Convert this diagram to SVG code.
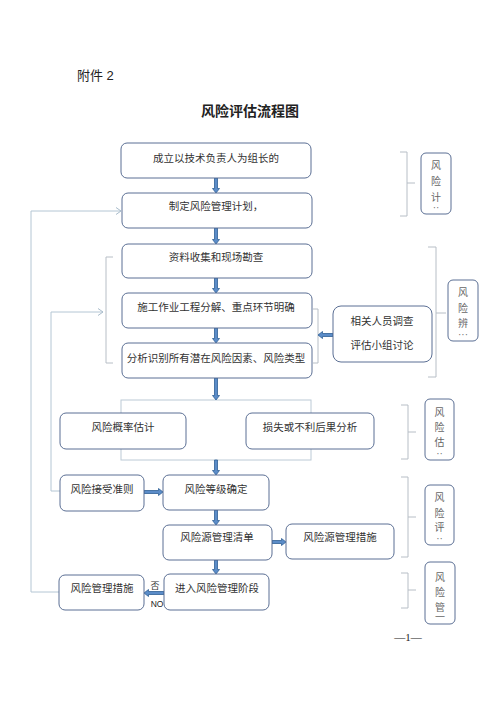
<svg xmlns="http://www.w3.org/2000/svg" width="500" height="707" viewBox="0 0 500 707">
<style>
.bg{fill:#ffffff}
.box{fill:#ffffff;stroke:#5b6f94;stroke-width:1}
.side{fill:#ffffff;stroke:#5b6f94;stroke-width:1}
.t{font-family:"Liberation Serif","Noto Sans CJK SC",serif;font-size:10.5px;fill:#333333;text-anchor:middle}
.st{font-family:"Liberation Serif","Noto Sans CJK SC",serif;font-size:10px;fill:#666666;text-anchor:middle}
.brk{fill:none;stroke:#b7bec6;stroke-width:1}
.fb{fill:none;stroke:#b4c6d4;stroke-width:1}
.ah{fill:none;stroke:#a9bccb;stroke-width:1}
.barrow{fill:#5b8cc8;stroke:#2f5f96;stroke-width:0.8}
.frame{fill:none;stroke:#bccad6;stroke-width:1}
</style>
<rect class="bg" x="0" y="0" width="500" height="707"/>

<text id="attach" x="77" y="80" style="font-family:'Liberation Sans','Noto Sans CJK SC',sans-serif;font-size:13px;fill:#222">附件 2</text>
<text id="title" x="250" y="116" style="font-family:'Liberation Serif','Noto Sans CJK SC',serif;font-size:14px;font-weight:bold;fill:#222;text-anchor:middle">风险评估流程图</text>

<g id="connectors">
  <!-- feedback lines -->
  <path class="fb" d="M59 592 H31 V211 H121"/>
  <path class="ah" d="M116 207.5 L121 211 L116 214.5"/>
  <path class="fb" d="M60 491 H51 V312 H103"/>
  <path class="ah" d="M98 308.5 L103 312 L98 315.5"/>
  <!-- left bracket around identification steps -->
  <path class="brk" d="M113 257 H106 V363 H113"/>
  <!-- small bracket right of steps 4-5 -->
  <path class="brk" d="M313 309 H318 V363 H313"/>
  <!-- estimation frame -->
  <rect class="frame" x="121" y="400" width="190" height="60"/>
  <!-- right braces -->
  <path class="brk" d="M400 152 H407 V216 H400 M407 183 H415"/>
  <path class="brk" d="M428 247 H436 V377 H428 M436 313 H446"/>
  <path class="brk" d="M401 405 H408 V459 H401 M408 432 H416"/>
  <path class="brk" d="M401 477 H408 V557 H401 M408 517 H416"/>
  <path class="brk" d="M401 573 H408 V608 H401 M408 590 H416"/>
  <!-- block arrows -->
  <path class="barrow" d="M214.5 178 L214.5 188.5 L212.5 188.5 L216 193 L219.5 188.5 L217.5 188.5 L217.5 178 Z"/>
  <path class="barrow" d="M214.5 228 L214.5 239.5 L212.5 239.5 L216 244 L219.5 239.5 L217.5 239.5 L217.5 228 Z"/>
  <path class="barrow" d="M214.5 278 L214.5 288.5 L212.5 288.5 L216 293 L219.5 288.5 L217.5 288.5 L217.5 278 Z"/>
  <path class="barrow" d="M214.5 328 L214.5 338.5 L212.5 338.5 L216 343 L219.5 338.5 L217.5 338.5 L217.5 328 Z"/>
  <path class="barrow" d="M214.5 378 L214.5 395.5 L212.5 395.5 L216 400 L219.5 395.5 L217.5 395.5 L217.5 378 Z"/>
  <path class="barrow" d="M214.5 460 L214.5 470.5 L212.5 470.5 L216 475 L219.5 470.5 L217.5 470.5 L217.5 460 Z"/>
  <path class="barrow" d="M214.5 510 L214.5 520.5 L212.5 520.5 L216 525 L219.5 520.5 L217.5 520.5 L217.5 510 Z"/>
  <path class="barrow" d="M214.5 560 L214.5 569.5 L212.5 569.5 L216 574 L219.5 569.5 L217.5 569.5 L217.5 560 Z"/>
  <path class="barrow" d="M144 490.5 L158.5 490.5 L158.5 488.5 L163 492 L158.5 495.5 L158.5 493.5 L144 493.5 Z"/>
  <path class="barrow" d="M272 540.5 L281.5 540.5 L281.5 538.5 L286 542 L281.5 545.5 L281.5 543.5 L272 543.5 Z"/>
  <path class="barrow" d="M333 333.5 L322.5 333.5 L322.5 331.5 L318 335 L322.5 338.5 L322.5 336.5 L333 336.5 Z"/>
  <path class="barrow" d="M164 591.5 L148.5 591.5 L148.5 589.5 L144 593 L148.5 596.5 L148.5 594.5 L164 594.5 Z"/>
  <text x="155" y="589" style="font-family:'Liberation Serif','Noto Sans CJK SC',serif;font-size:9px;fill:#333;text-anchor:middle">否</text>
  <text x="157" y="607" style="font-family:'Liberation Sans',sans-serif;font-size:8.5px;fill:#222;text-anchor:middle">NO</text>
</g>

<g id="n1"><rect class="box" x="121" y="143" width="190" height="35" rx="6"/><text class="t" x="216" y="162">成立以技术负责人为组长的</text></g>
<g id="n2"><rect class="box" x="122" y="193" width="190" height="35" rx="6"/><text class="t" x="216" y="210">制定风险管理计划，</text></g>
<g id="n3"><rect class="box" x="122" y="244" width="190" height="34" rx="6"/><text class="t" x="216" y="261">资料收集和现场勘查</text></g>
<g id="n4"><rect class="box" x="122" y="293" width="190" height="35" rx="6"/><text class="t" x="216" y="311">施工作业工程分解、重点环节明确</text></g>
<g id="n5"><rect class="box" x="122" y="343" width="190" height="35" rx="6"/><text class="t" x="216" y="362">分析识别所有潜在风险因素、风险类型</text></g>
<g id="n6"><rect class="box" x="333" y="306" width="99" height="56" rx="8"/><text class="t" x="382" y="325">相关人员调查</text><text class="t" x="382" y="349">评估小组讨论</text></g>
<g id="n7"><rect class="box" x="60" y="413" width="126" height="36" rx="6"/><text class="t" x="123" y="431">风险概率估计</text></g>
<g id="n8"><rect class="box" x="246" y="413" width="128" height="36" rx="6"/><text class="t" x="310" y="431">损失或不利后果分析</text></g>
<g id="n9"><rect class="box" x="60" y="475" width="84" height="36" rx="6"/><text class="t" x="102" y="493">风险接受准则</text></g>
<g id="n10"><rect class="box" x="163" y="475" width="106" height="35" rx="6"/><text class="t" x="216" y="493">风险等级确定</text></g>
<g id="n11"><rect class="box" x="163" y="525" width="109" height="35" rx="6"/><text class="t" x="217" y="541">风险源管理清单</text></g>
<g id="n12"><rect class="box" x="286" y="524" width="108" height="35" rx="6"/><text class="t" x="340" y="541">风险源管理措施</text></g>
<g id="n13"><rect class="box" x="59" y="575" width="85" height="35" rx="6"/><text class="t" x="102" y="592">风险管理措施</text></g>
<g id="n14"><rect class="box" x="164" y="574" width="105" height="36" rx="6"/><text class="t" x="217" y="592">进入风险管理阶段</text></g>

<g id="s1"><rect class="side" x="421" y="153" width="30" height="61" rx="5"/><text class="st" x="436" y="169">风</text><text class="st" x="436" y="185">险</text><text class="st" x="436" y="201">计</text><text class="st" x="436" y="211">··</text></g>
<g id="s2"><rect class="side" x="448" y="280" width="30" height="61" rx="5"/><text class="st" x="463" y="296">风</text><text class="st" x="463" y="312">险</text><text class="st" x="463" y="327">辨</text><text class="st" x="463" y="338">···</text></g>
<g id="s3"><rect class="side" x="425" y="399" width="29" height="61" rx="5"/><text class="st" x="439.5" y="416">风</text><text class="st" x="439.5" y="431">险</text><text class="st" x="439.5" y="446">估</text><text class="st" x="439.5" y="457">··</text></g>
<g id="s4"><rect class="side" x="425" y="485" width="29" height="60" rx="5"/><text class="st" x="439.5" y="501">风</text><text class="st" x="439.5" y="517">险</text><text class="st" x="439.5" y="531">评</text><text class="st" x="439.5" y="542">··</text></g>
<g id="s5"><rect class="side" x="425" y="562" width="30" height="62" rx="5"/><text class="st" x="440" y="581">风</text><text class="st" x="440" y="596">险</text><text class="st" x="440" y="611">管</text><text class="st" x="440" y="621">一</text></g>

<text id="page" x="408" y="641" style="font-family:'Liberation Serif','Noto Sans CJK SC',serif;font-size:11px;fill:#222;text-anchor:middle">—1—</text>
</svg>
